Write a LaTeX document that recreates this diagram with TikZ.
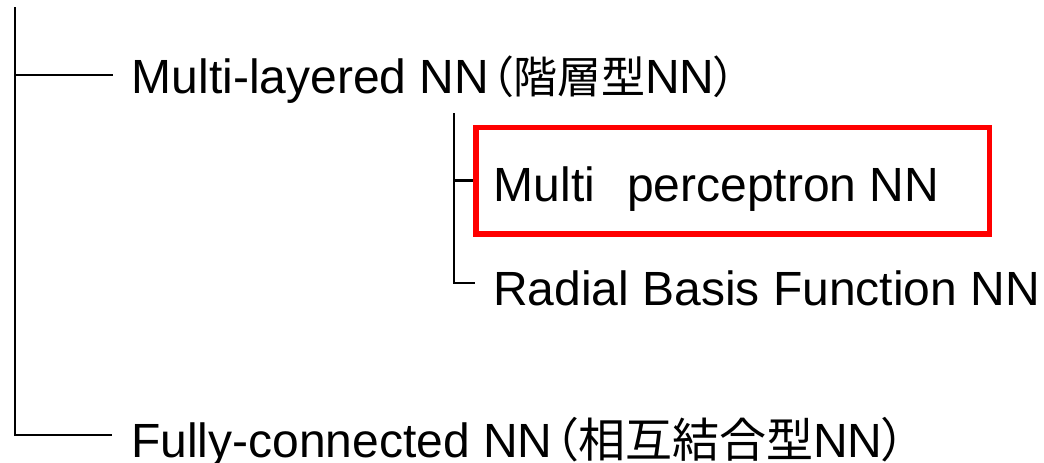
\documentclass[tikz,border=0pt]{standalone}
\usepackage{fontspec}
\setmainfont{Liberation Sans}
\newfontfamily\cjk[RawFeature=+palt]{Noto Sans CJK JP}
\begin{document}
\begin{tikzpicture}[x=1pt,y=-1pt,
  txt/.style={anchor=base west,inner sep=0pt,font=\fontsize{48}{56}\selectfont},
  cjktxt/.style={},
  treeline/.style={line width=2.6pt,black},
  redbox/.style={draw=red,line width=5.5pt,minimum width=513.5pt,minimum height=106.5pt,inner sep=0pt}]
\useasboundingbox (0,0) rectangle (1044,463);
% text nodes
\node[txt] (ml) at (131.5,93) {Multi-layered NN\kern2pt{\cjk\fontsize{44}{56}\selectfont （階層型}NN{\cjk\fontsize{44}{56}\selectfont ）}};
\node[redbox] (mlpbox) at (732.75,180.5) {};
\node[txt] (mlp) at (493.5,201) {Multi\hspace{32pt}perceptron NN};
\node[txt] (rbf) at (493,305) {Radial Basis Function NN};
\node[txt] (fc) at (131,457) {Fully-connected NN\kern2pt{\cjk\fontsize{47}{56}\selectfont （相互結合型}NN{\cjk\fontsize{47}{56}\selectfont ）}};
% tree coordinates
\coordinate (rootTop) at (15,7);
\coordinate (rootBot) at (15,435);
\coordinate (mlEnd) at (113,75);
\coordinate (fcEnd) at (112,435);
\coordinate (subTop) at (454,113);
\coordinate (subBot) at (454,283);
\coordinate (rbfEnd) at (475,283);
% connectors
\draw[treeline] (rootTop) -- (rootBot) -- (fcEnd);
\draw[treeline] (rootTop |- mlEnd) -- (mlEnd);
\draw[treeline] (subTop) -- (subBot) -- (rbfEnd);
\draw[treeline] (subTop |- mlpbox.west) -- (mlpbox.west);
\end{tikzpicture}
\end{document}
